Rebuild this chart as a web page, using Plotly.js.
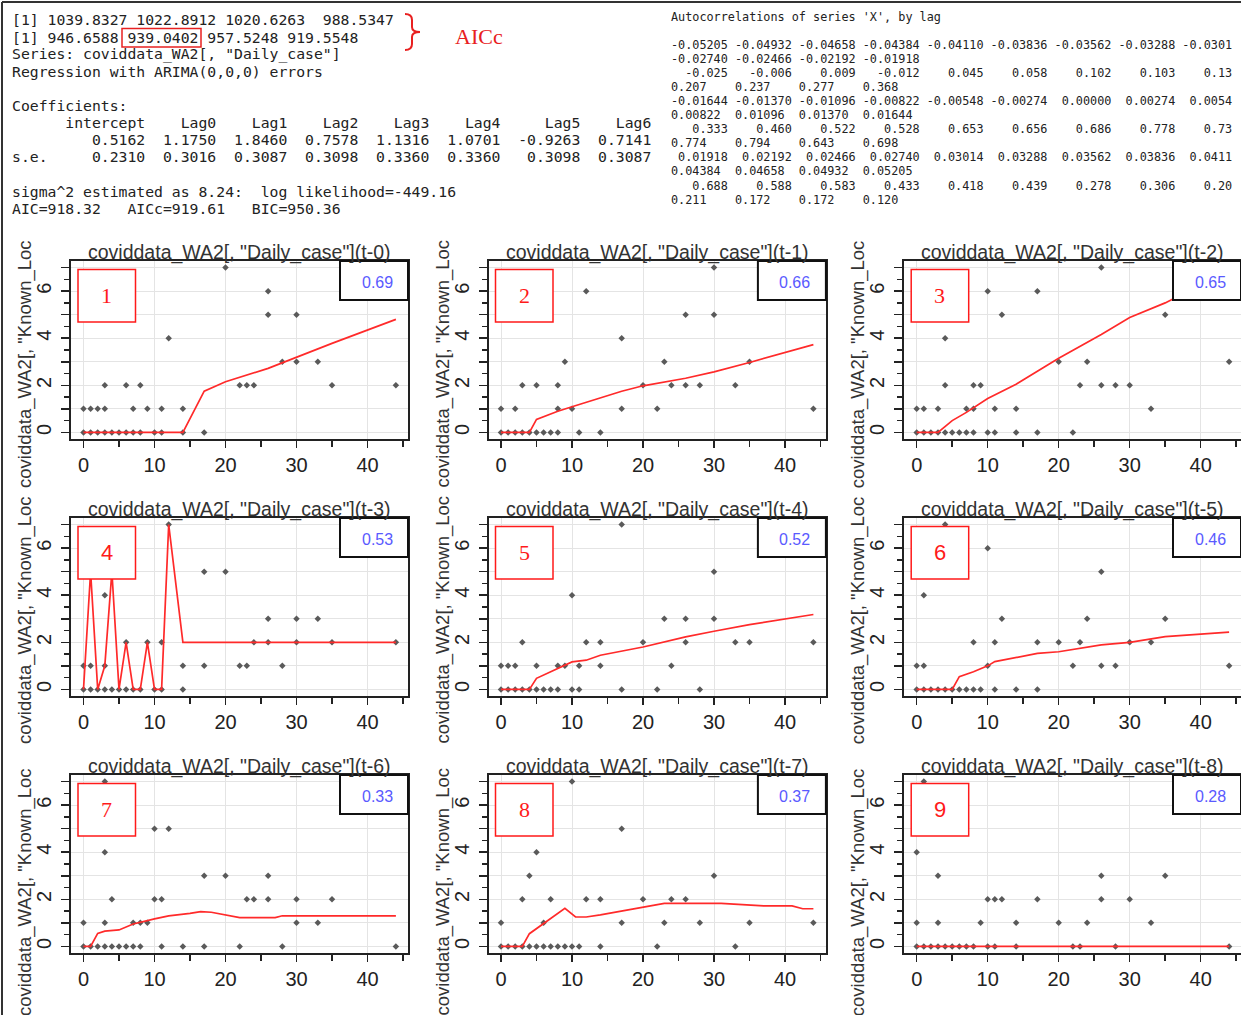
<!DOCTYPE html>
<html><head><meta charset="utf-8">
<script src="https://cdn.plot.ly/plotly-3.0.1.min.js"></script>
<style>html,body{margin:0;padding:0;background:#fff;overflow:hidden;}#chart{width:1241px;height:1015px;}</style>
</head><body><div id="chart"></div>
<script>
// ---------------- data ----------------
const lagLabels = ['t-0','t-1','t-2','t-3','t-4','t-5','t-6','t-7','t-8'];
const corrValues = [0.69,0.66,0.65,0.53,0.52,0.46,0.33,0.37,0.28];
const xTickVals = [0,10,20,30,40];
const yTickVals = [0,1,2,3,4,5,6,7];
const yTickText = ['0','','2','','4','','6',''];

const p1x = [0,1,2,3,4,5,6,7,8,10,11,14,17, 0,1,2,3,7,9,11,14, 3,6,8,22,23,24,35,44, 28,30,33, 12, 26,30, 26, 20];
const p1y = [0,0,0,0,0,0,0,0,0,0,0,0,0, 1,1,1,1,1,1,1,1, 2,2,2,2,2,2,2,2, 3,3,3, 4, 5,5, 6, 7];
const p2x = [0,1,2,3,4,5,6,7,8,11,14, 0,2,8,10,17,22,44, 3,5,8,20,24,26,28,33, 9,23,35, 17, 26,30, 12, 30];
const p2y = [0,0,0,0,0,0,0,0,0,0,0, 1,1,1,1,1,1,1, 2,2,2,2,2,2,2,2, 3,3,3, 4, 5,5, 6, 7];
const p3x = [0,1,2,3,4,5,6,7,8,10,11,14,17,22, 0,1,3,7,8,11,14,33, 4,8,9,23,26,28,30, 20,24,44, 4, 12,35, 10,17, 26];
const p3y = [0,0,0,0,0,0,0,0,0,0,0,0,0,0, 1,1,1,1,1,1,1,1, 2,2,2,2,2,2,2, 3,3,3, 4, 5,5, 6,6, 7];
const p4x = [0,1,2,3,4,5,6,7,8,10,11,14, 0,1,3,14,17,22,23,28, 6,9,11,24,26,30,35,44, 26,30,33, 3, 17,20, 12];
const p4y = [0,0,0,0,0,0,0,0,0,0,0,0, 1,1,1,1,1,1,1,1, 2,2,2,2,2,2,2,2, 3,3,3, 4, 5,5, 7];
const p5x = [0,1,2,3,4,5,6,7,8,10,11,17,22,28, 0,1,2,5,8,9,11,14,24, 3,12,14,20,26,33,35,44, 23,26,30, 10, 30, 17];
const p5y = [0,0,0,0,0,0,0,0,0,0,0,0,0,0, 1,1,1,1,1,1,1,1,1, 2,2,2,2,2,2,2,2, 3,3,3, 4, 5, 7];
const p6x = [0,1,2,3,4,5,6,7,8,9,11,14,17, 0,1,10,22,26,28,44, 8,11,17,20,23,30,33, 12,24,35, 1, 26, 10, 4];
const p6y = [0,0,0,0,0,0,0,0,0,0,0,0,0, 1,1,1,1,1,1,1, 2,2,2,2,2,2,2, 3,3,3, 4, 5, 6, 7];
const p7x = [0,1,2,3,4,5,6,7,8,11,14,17,22,28,44, 0,3,7,8,9,30,33, 4,10,11,23,24,26,30,35, 17,20,26, 3, 10,12, 3];
const p7y = [0,0,0,0,0,0,0,0,0,0,0,0,0,0,0, 1,1,1,1,1,1,1, 2,2,2,2,2,2,2,2, 3,3,3, 4, 5,5, 7];
const p8x = [0,1,2,3,4,5,6,7,8,9,10,11,14,22,33, 0,6,17,23,28,35,44, 3,7,12,14,20,24,26, 4,30, 5, 17, 10];
const p8y = [0,0,0,0,0,0,0,0,0,0,0,0,0,0,0, 1,1,1,1,1,1,1, 2,2,2,2,2,2,2, 3,3, 4, 5, 7];
const p9x = [0,1,2,3,4,5,6,7,8,10,11,14,22,23,28,44, 0,3,9,14,20,24,33, 10,11,12,17,26,30, 3,26,35, 0, 1];
const p9y = [0,0,0,0,0,0,0,0,0,0,0,0,0,0,0,0, 1,1,1,1,1,1,1, 2,2,2,2,2,2, 3,3,3, 4, 7];

const l1x = [0,14,17,20,26,30,35,44];
const l1y = [0,0,1.75,2.15,2.72,3.2,3.78,4.8];
const l2x = [0,4,5,8,10,17,20,26,30,35,44];
const l2y = [0,0,0.55,0.9,1.09,1.75,1.98,2.3,2.57,2.97,3.73];
const l3x = [0,3,5,7,10,14,20,26,30,35,44];
const l3y = [0,0,0.5,0.85,1.44,2.05,3.15,4.16,4.88,5.5,6.9];
const l4x = [0,1,2,3,4,5,6,7,8,9,10,11,12,14,44];
const l4y = [0,5,0,1,5,0,2,0,0,2,0,0,7,2,2];
const l5x = [0,4,5,7,10,12,14,20,26,30,35,44];
const l5y = [0,0,0.47,0.75,1.17,1.24,1.45,1.8,2.23,2.47,2.75,3.18];
const l6x = [0,5,6,8,10,11,17,20,26,30,35,44];
const l6y = [0,0,0.54,0.75,1.0,1.18,1.53,1.6,1.89,2.0,2.24,2.43];
const l7x = [0,1,2,3,5,7,10,12,15,16.5,18,20,22,27,28,44];
const l7y = [0,0,0.55,0.65,0.7,0.95,1.17,1.3,1.4,1.48,1.45,1.33,1.22,1.22,1.3,1.3];
const l8x = [0,3,4,6,9,10.5,12,14,17,20,23,31,37,41,42.5,44];
const l8y = [0,0,0.54,0.98,1.62,1.25,1.25,1.34,1.5,1.66,1.83,1.83,1.72,1.72,1.6,1.6];
const l9x = [0,44];
const l9y = [0,0];

const consoleLines = [
  '[1] 1039.8327 1022.8912 1020.6263  988.5347',
  '[1] 946.6588 939.0402 957.5248 919.5548',
  'Series: coviddata_WA2[, "Daily_case"]',
  'Regression with ARIMA(0,0,0) errors',
  '',
  'Coefficients:',
  '      intercept    Lag0    Lag1    Lag2    Lag3    Lag4     Lag5    Lag6',
  '         0.5162  1.1750  1.8460  0.7578  1.1316  1.0701  -0.9263  0.7141',
  's.e.     0.2310  0.3016  0.3087  0.3098  0.3360  0.3360   0.3098  0.3087',
  '',
  'sigma^2 estimated as 8.24:  log likelihood=-449.16',
  'AIC=918.32   AICc=919.61   BIC=950.36'
];
const acfLines = [
  "Autocorrelations of series 'X', by lag",
  '',
  '-0.05205 -0.04932 -0.04658 -0.04384 -0.04110 -0.03836 -0.03562 -0.03288 -0.0301',
  '-0.02740 -0.02466 -0.02192 -0.01918',
  '  -0.025   -0.006    0.009   -0.012    0.045    0.058    0.102    0.103    0.13',
  '0.207    0.237    0.277    0.368',
  '-0.01644 -0.01370 -0.01096 -0.00822 -0.00548 -0.00274  0.00000  0.00274  0.0054',
  '0.00822  0.01096  0.01370  0.01644',
  '   0.333    0.460    0.522    0.528    0.653    0.656    0.686    0.778    0.73',
  '0.774    0.794    0.643    0.698',
  ' 0.01918  0.02192  0.02466  0.02740  0.03014  0.03288  0.03562  0.03836  0.0411',
  '0.04384  0.04658  0.04932  0.05205',
  '   0.688    0.588    0.583    0.433    0.418    0.439    0.278    0.306    0.20',
  '0.211    0.172    0.172    0.120'
];

// ---------------- layout helpers ----------------
const W = 1241, H = 1015;
const fx = p => p / W;
const fy = p => 1 - p / H;
const nb = s => s.replace(/ /g, '\u00A0');

const colL = [71, 488.5, 904.2], colR = [408, 825.9, 1241];
const rowT = [261, 518, 775], rowB = [439, 696, 953];
const XR = [-1.76, 45.76], YR = [-0.28, 7.28];
const pxPerUnit = (825.9 - 488.5) / (XR[1] - XR[0]);

const PX = [p1x,p2x,p3x,p4x,p5x,p6x,p7x,p8x,p9x];
const PY = [p1y,p2y,p3y,p4y,p5y,p6y,p7y,p8y,p9y];
const LX = [l1x,l2x,l3x,l4x,l5x,l6x,l7x,l8x,l9x];
const LY = [l1y,l2y,l3y,l4y,l5y,l6y,l7y,l8y,l9y];

const SANS = 'Liberation Sans, Arial, sans-serif';
const SERIF = 'Liberation Serif, Times New Roman, serif';
const MONO = 'DejaVu Sans Mono, monospace';

const traces = [];
const layout = {
  width: W, height: H,
  margin: {l:0, r:0, t:0, b:0, pad:0},
  paper_bgcolor: '#fff', plot_bgcolor: '#fff',
  showlegend: false,
  shapes: [], annotations: []
};

for (let i = 0; i < 9; i++) {
  const c = i % 3, r = Math.floor(i / 3);
  const k = i === 0 ? '' : String(i + 1);
  const xEnd = XR[0] + (colR[c] - colL[c]) / pxPerUnit;
  traces.push({
    x: PX[i], y: PY[i], type: 'scatter', mode: 'markers',
    xaxis: 'x' + k, yaxis: 'y' + k,
    marker: {symbol: 'diamond', size: 5, color: '#5a5a5a'},
    hoverinfo: 'skip', cliponaxis: false
  });
  traces.push({
    x: LX[i], y: LY[i], type: 'scatter', mode: 'lines',
    xaxis: 'x' + k, yaxis: 'y' + k,
    line: {color: '#ff2a2a', width: 1.7},
    hoverinfo: 'skip'
  });
  layout['xaxis' + k] = {
    domain: [fx(colL[c]), fx(colR[c])], range: [XR[0], xEnd], anchor: 'y' + k,
    tickmode: 'array', tickvals: xTickVals,
    showgrid: true, gridcolor: '#e4e4e4', gridwidth: 1, zeroline: false,
    ticks: 'outside', ticklen: 7, tickwidth: 1.5, tickcolor: '#222',
    minor: {tickmode: 'linear', tick0: 0, dtick: 5, ticks: 'outside', ticklen: 6, tickwidth: 1.5, tickcolor: '#222', showgrid: false},
    showline: true, linecolor: '#222', linewidth: 2, mirror: true,
    tickfont: {family: SANS, size: 20, color: '#222'}, ticklabelstandoff: 0,
    fixedrange: true
  };
  layout['yaxis' + k] = {
    domain: [fy(rowB[r]), fy(rowT[r])], range: YR, anchor: 'x' + k,
    tickmode: 'array', tickvals: yTickVals, ticktext: yTickText, tickangle: -90,
    showgrid: true, gridcolor: '#e4e4e4', gridwidth: 1, zeroline: false,
    ticks: 'outside', ticklen: 8, tickwidth: 1.5, tickcolor: '#222',
    minor: {tickmode: 'linear', tick0: 0, dtick: 0.5, ticks: 'outside', ticklen: 5, tickwidth: 1.5, tickcolor: '#222', showgrid: false},
    showline: true, linecolor: '#222', linewidth: 2, mirror: true,
    tickfont: {family: SANS, size: 20, color: '#222'}, ticklabelstandoff: 2,
    fixedrange: true
  };

  // title
  layout.annotations.push({
    text: nb('coviddata_WA2[, "Daily_case"](' + lagLabels[i] + ')'),
    xref: 'paper', yref: 'paper', x: fx((colL[c] + Math.min(colR[c], colL[c] + 337.4)) / 2), y: fy(rowT[r] - 8.5),
    xanchor: 'center', yanchor: 'middle', showarrow: false,
    font: {family: SANS, size: 19.5, color: '#333'}
  });
  // y label
  const yBottoms = [490, 746, 1018];
  layout.annotations.push({
    text: nb('coviddata_WA2[, "Known_Loc'),
    xref: 'paper', yref: 'paper', x: fx(colL[c] - 46), y: fy(yBottoms[r]),
    xanchor: 'center', yanchor: 'bottom', textangle: -90, showarrow: false,
    font: {family: SANS, size: 18.5, color: '#333'}
  });
  // correlation box
  const bx0 = colR[c] - 68, by0 = rowT[r];
  layout.shapes.push({
    type: 'rect', xref: 'paper', yref: 'paper', layer: 'above',
    x0: fx(bx0), x1: fx(colR[c]), y0: fy(by0), y1: fy(by0 + 39),
    fillcolor: '#fff', line: {color: '#111', width: 2}
  });
  layout.annotations.push({
    text: corrValues[i].toFixed(2),
    xref: 'paper', yref: 'paper', x: fx(bx0 + 37), y: fy(by0 + 21),
    xanchor: 'center', yanchor: 'middle', showarrow: false,
    font: {family: SANS, size: 16, color: '#5a5aff'}
  });
  // red number box
  const nx0 = colL[c] + 7, ny0 = rowT[r] + 8.5;
  layout.shapes.push({
    type: 'rect', xref: 'paper', yref: 'paper', layer: 'above',
    x0: fx(nx0), x1: fx(nx0 + 57.5), y0: fy(ny0), y1: fy(ny0 + 52.5),
    fillcolor: '#fff', line: {color: '#ff1a1a', width: 1.5}
  });
  const sansNum = (i === 3 || i === 5 || i === 8);
  layout.annotations.push({
    text: String(i + 1),
    xref: 'paper', yref: 'paper', x: fx(nx0 + 28.7), y: fy(ny0 + 26),
    xanchor: 'center', yanchor: 'middle', showarrow: false,
    font: {family: sansNum ? SANS : SERIF, size: 22, color: '#ff1a1a'}
  });
}

// console text (left)
consoleLines.forEach((s, j) => {
  if (!s) return;
  layout.annotations.push({
    text: nb(s), xref: 'paper', yref: 'paper', x: fx(10), y: fy(20 + 17.1 * j),
    xanchor: 'left', yanchor: 'middle', showarrow: false,
    font: {family: MONO, size: 14.75, color: '#222'}
  });
});
// acf text (right)
acfLines.forEach((s, j) => {
  if (!s) return;
  const yc = j === 0 ? 17 : 45 + 14.05 * (j - 2);
  layout.annotations.push({
    text: nb(s), xref: 'paper', yref: 'paper', x: fx(669), y: fy(yc),
    xanchor: 'left', yanchor: 'middle', showarrow: false,
    font: {family: MONO, size: 11.8, color: '#222'}
  });
});
// highlight box and brace
layout.shapes.push({
  type: 'rect', xref: 'paper', yref: 'paper', layer: 'above',
  x0: fx(122), x1: fx(201), y0: fy(28.5), y1: fy(47),
  line: {color: '#e82020', width: 1.5}
});
const P = (x, y) => fx(x).toFixed(5) + ',' + fy(y).toFixed(5);
layout.shapes.push({
  type: 'path', xref: 'paper', yref: 'paper', layer: 'above',
  path: 'M' + P(405,14) + ' Q' + P(412,14) + ' ' + P(412,20) + ' L' + P(412,27) +
        ' Q' + P(412,32) + ' ' + P(420,32) + ' Q' + P(412,32) + ' ' + P(412,37) +
        ' L' + P(412,44) + ' Q' + P(412,50) + ' ' + P(405,50),
  line: {color: '#e82020', width: 2}
});
layout.annotations.push({
  text: 'AICc', xref: 'paper', yref: 'paper', x: fx(479), y: fy(37),
  xanchor: 'center', yanchor: 'middle', showarrow: false,
  font: {family: SERIF, size: 22, color: '#e82020'}
});
// outer frame
layout.shapes.push({type: 'line', xref: 'paper', yref: 'paper', x0: fx(2), x1: fx(1241), y0: fy(2), y1: fy(2), line: {color: '#333', width: 2}});
layout.shapes.push({type: 'line', xref: 'paper', yref: 'paper', x0: fx(2), x1: fx(2), y0: fy(2), y1: fy(1015), line: {color: '#333', width: 2}});

Plotly.newPlot('chart', traces, layout, {displayModeBar: false, staticPlot: true});
</script></body></html>
